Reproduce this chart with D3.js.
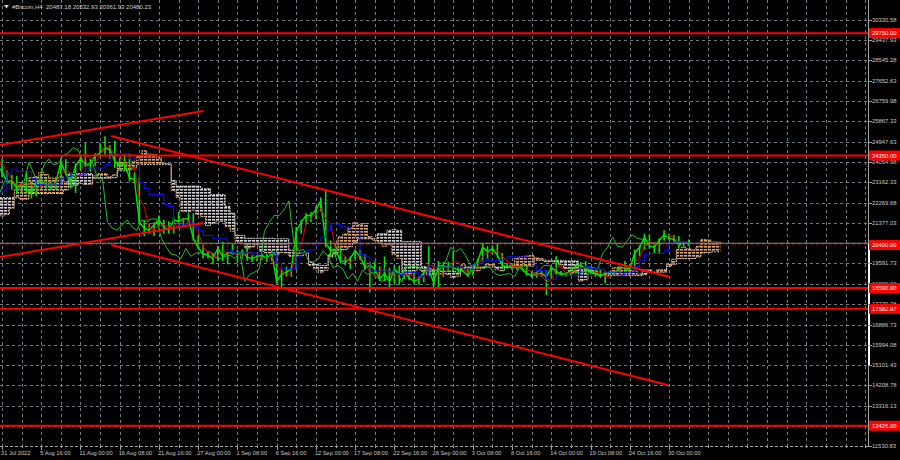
<!DOCTYPE html>
<html><head><meta charset="utf-8">
<script src="https://cdn.jsdelivr.net/npm/d3@7"></script>
<style>body{margin:0;background:#000;} svg{display:block;}</style>
</head><body><svg id="c" width="900" height="460"></svg>
<script>
// ---------- DATA ----------
const title = "#Bitcoin,H4  20487.18 20532.93 20361.93 20480.23";
const lastClose = 20480.23;
// H4 bar index of first sample (0 = 31 Jul 2022 00:00), one sample every 4 H4 bars
const firstBar = -84, barStep = 4;
const hi = [21600,22000,22700,23000,23800,24280,23450,23200,23750,22850,22700,22900,22500,21600,21300,22700,23200,24100,24150,24000,24650,
24200,23700,23500,23450,23200,23650,23200,23300,23450,23350,23200,23400,24250,24200,23600,24000,24300,24900,24200,24450,
24900,25200,24800,25000,24250,24400,24450,23600,23400,21500,21350,21400,21700,21500,21450,21650,21850,21600,21800,21800,
20800,20400,20150,20050,20350,20550,20100,20450,20200,20200,20450,19950,19950,20000,20000,20150,20150,19300,19450,19450,
21200,21500,21800,21850,22100,22500,22800,20600,20450,20300,19900,19900,20200,20200,20000,19650,19700,19450,19900,19400,
19500,19500,19350,19300,19200,19000,19300,20350,19400,19700,19650,19650,20150,19450,19400,19400,19500,19800,20450,20350,
20400,20450,20050,19600,19600,19500,19550,19500,19250,19200,19250,19300,19500,19900,19250,19200,19400,19550,19650,19700,
19400,19300,19350,19250,19250,19250,19450,19700,19550,20200,20400,20900,20850,20450,20700,21050,20900,20850,20800,20550,20650];
const lo = [20750,20800,21600,21600,22600,23000,22400,22600,22300,22200,22150,22300,21300,20900,20700,21000,22500,22900,23400,23500,23650,
23400,23100,22850,22650,22700,22700,22450,22550,22900,22900,22850,22850,23150,23500,22900,22700,23700,23850,23650,23900,
24300,24400,24200,23800,23700,23700,23200,23150,21300,20800,20900,20800,21200,20900,20900,20900,21200,21200,21400,20600,
20200,19800,19800,19550,19700,19700,19550,19950,19600,19800,19700,19650,19700,19750,19650,19700,18700,18550,19000,19000,
19300,20900,21300,21400,21550,21900,20300,19900,19850,19600,19500,19350,19750,19750,19300,18300,19150,18800,18800,18500,
18700,18650,18900,18850,18700,18650,18750,19150,18500,18500,19000,19200,19250,19150,19200,19000,19050,19350,19650,19800,
20000,19850,19350,19350,19300,19300,19350,19050,18950,18950,19000,18200,18900,19100,19050,19000,19100,19150,19350,19100,
19100,19000,18950,18700,19050,19100,19150,19250,19150,19250,19900,20200,20250,20050,20000,20600,20600,20550,20250,20300,20350];
const cl = [21200,21900,22400,22700,23600,23200,22900,23100,22500,22500,22400,22500,21400,21200,21200,22600,23000,23800,23700,23900,23900,
23650,23200,23250,22900,23100,22850,22700,23200,23150,23100,22950,23200,24050,23550,23150,23900,24200,23950,24000,24350,
24450,24700,24600,24100,23900,24000,23350,23300,21400,21150,21050,21300,21500,21200,21050,21500,21450,21550,21550,20700,
20300,20000,19950,19800,20250,19900,20050,20050,20000,20100,19850,19800,19900,19950,19800,20050,18800,19100,19200,19350,
21000,21400,21700,21700,21950,22350,20500,20150,20200,19700,19650,19800,20150,19900,19400,19500,19350,18900,19150,18800,
19300,19100,19200,18950,18800,18900,19200,19300,18750,19500,19450,19450,19400,19300,19250,19050,19400,19700,20300,20100,
20250,19950,19500,19450,19400,19450,19400,19150,19050,19100,19150,19000,19400,19200,19100,19150,19250,19500,19500,19350,
19200,19150,19050,19150,19200,19200,19400,19400,19350,20050,20300,20750,20350,20300,20600,20850,20700,20650,20400,20500,20480];

const levels = [29750, 24350, 20400, 18500, 17582.97, 12426];
const levelLabels = ["29750.00","24350.00","20400.00","18500.00","17582.97","12426.00"];
const dottedLevel = 20400;

const yTickLabels = ["30330.58","29437.93","28545.28","27652.63","26759.98","25867.33","24947.63","24054.98","23162.33","22269.68","21377.03","20484.38","19591.73","18699.08","17779.38","16886.73","15994.08","15101.43","14208.78","13316.13","12423.48","11530.83"];
const xTickLabels = ["31 Jul 2022","5 Aug 16:00","11 Aug 00:00","16 Aug 08:00","21 Aug 16:00","27 Aug 00:00","1 Sep 08:00","6 Sep 16:00","12 Sep 00:00","17 Sep 08:00","22 Sep 16:00","28 Sep 00:00","3 Oct 08:00","8 Oct 16:00","14 Oct 00:00","19 Oct 08:00","24 Oct 16:00","30 Oct 00:00"];
const barsPerLabel = 32, barsPerGrid = 16;

// trend lines as [bar, price] anchors
const trendLines = [
  [[-2, 24814], [164, 26315]],
  [[-2, 19871], [164, 21372]],
  [[89, 25211], [545, 18989]],
  [[89, 20401], [543, 14223]]
];

// Ichimoku periods expressed in samples (4 H4 bars each), shift in bars
const tenkanN = 2, kijunN = 7, spanBN = 13, shiftBars = 26;

// ---------- CHART ----------
const svg = d3.select("#c");
const PR = 868, PB = 446;
const x = d3.scaleLinear().domain([0, 544]).range([2, 669]);
const y = d3.scaleLinear().domain([11530.83, 30330.58]).range([446, 20]);
const FONT = "Liberation Sans, Arial, sans-serif";

svg.append("rect").attr("width", 900).attr("height", 460).attr("fill", "#000");
const defs = svg.append("defs");
defs.append("clipPath").attr("id", "plot").append("rect")
  .attr("x", 0).attr("y", 0).attr("width", PR).attr("height", PB);
function pattern(id, color) {
  const p = defs.append("pattern").attr("id", id).attr("patternUnits", "userSpaceOnUse")
    .attr("width", 4).attr("height", 3);
  p.append("rect").attr("x", 0).attr("y", 0).attr("width", 3.2).attr("height", 1.6).attr("fill", color);
}
const sandyC = "#e0a570", thistleC = "#d6d0d6";
pattern("sandy", sandyC);
pattern("thistle", thistleC);

const g = svg.append("g").attr("clip-path", "url(#plot)");

// grid
const gridColor = "#6f7a86";
const gridBars = d3.range(0, 720, barsPerGrid).filter(b => x(b) < PR);
g.selectAll(".vg").data(gridBars).join("line")
  .attr("x1", d => Math.round(x(d)) + 0.5).attr("x2", d => Math.round(x(d)) + 0.5)
  .attr("y1", 0).attr("y2", PB)
  .attr("stroke", gridColor).attr("stroke-width", 1).attr("stroke-dasharray", "3,3");
const yTickVals = yTickLabels.map(Number);
g.selectAll(".hg").data(yTickVals).join("line")
  .attr("x1", 0).attr("x2", PR)
  .attr("y1", d => Math.round(y(d)) + 0.5).attr("y2", d => Math.round(y(d)) + 0.5)
  .attr("stroke", gridColor).attr("stroke-width", 1).attr("stroke-dasharray", "3,3");

// data points
const pts = hi.map((h, k) => ({ k, bar: firstBar + k * barStep, h, l: lo[k], c: cl[k] }));
function mid(k, n) {
  if (k < n - 1) return null;
  let mx = -Infinity, mn = Infinity;
  for (let i = k - n + 1; i <= k; i++) { mx = Math.max(mx, hi[i]); mn = Math.min(mn, lo[i]); }
  return (mx + mn) / 2;
}
const tenkan = pts.filter(p => p.k >= tenkanN - 1).map(p => ({ bar: p.bar, v: mid(p.k, tenkanN) }));
const kijun = pts.filter(p => p.k >= kijunN - 1).map(p => ({ bar: p.bar, v: mid(p.k, kijunN) }));
const cloud = pts.filter(p => p.k >= spanBN - 1).map(p => {
  const a = (mid(p.k, tenkanN) + mid(p.k, kijunN)) / 2;
  const b = mid(p.k, spanBN);
  return { bar: p.bar + shiftBars, a, b };
});
const chikou = pts.map(p => ({ bar: p.bar - shiftBars, v: p.c }));

// cloud
g.append("path").datum(cloud)
  .attr("d", d3.area().x(d => x(d.bar)).y0(d => y(d.b)).y1(d => y(Math.max(d.a, d.b))).curve(d3.curveStepAfter))
  .attr("fill", "url(#sandy)");
g.append("path").datum(cloud)
  .attr("d", d3.area().x(d => x(d.bar)).y0(d => y(d.a)).y1(d => y(Math.max(d.a, d.b))).curve(d3.curveStepAfter))
  .attr("fill", "url(#thistle)");
g.append("path").datum(cloud)
  .attr("d", d3.line().x(d => x(d.bar)).y(d => y(d.a)).curve(d3.curveStepAfter))
  .attr("fill", "none").attr("stroke", sandyC).attr("stroke-width", 1).attr("stroke-dasharray", "2,1");
g.append("path").datum(cloud)
  .attr("d", d3.line().x(d => x(d.bar)).y(d => y(d.b)).curve(d3.curveStepAfter))
  .attr("fill", "none").attr("stroke", thistleC).attr("stroke-width", 1).attr("stroke-dasharray", "2,1");

// price bars
g.selectAll(".pb").data(pts).join("line")
  .attr("x1", d => x(d.bar)).attr("x2", d => x(d.bar))
  .attr("y1", d => y(d.h)).attr("y2", d => y(d.l))
  .attr("stroke", "#00e400").attr("stroke-width", 1.6);
g.append("path").datum(pts)
  .attr("d", d3.line().x(d => x(d.bar)).y(d => y(d.c)))
  .attr("fill", "none").attr("stroke", "#00e400").attr("stroke-width", 1.4);

// chikou
g.append("path").datum(chikou)
  .attr("d", d3.line().x(d => x(d.bar)).y(d => y(d.v)))
  .attr("fill", "none").attr("stroke", "#22c022").attr("stroke-width", 1);
// tenkan / kijun
g.append("path").datum(tenkan)
  .attr("d", d3.line().x(d => x(d.bar)).y(d => y(d.v)))
  .attr("fill", "none").attr("stroke", "#e00000").attr("stroke-width", 1);
g.append("path").datum(kijun)
  .attr("d", d3.line().x(d => x(d.bar)).y(d => y(d.v)).curve(d3.curveStepAfter))
  .attr("fill", "none").attr("stroke", "#1010ff").attr("stroke-width", 1);

// bid line
g.append("line").attr("x1", 0).attr("x2", PR)
  .attr("y1", y(lastClose)).attr("y2", y(lastClose))
  .attr("stroke", "#808080").attr("stroke-width", 1);

// levels
g.selectAll(".lv").data(levels).join("line")
  .attr("x1", 0).attr("x2", PR)
  .attr("y1", d => y(d)).attr("y2", d => y(d))
  .attr("stroke", d => d === dottedLevel ? "#c00000" : "#ff0000")
  .attr("stroke-width", d => d === dottedLevel ? 1 : 2)
  .attr("stroke-dasharray", d => d === dottedLevel ? "1,2" : null);

// trend lines
g.selectAll(".tl").data(trendLines).join("line")
  .attr("x1", d => x(d[0][0])).attr("y1", d => y(d[0][1]))
  .attr("x2", d => x(d[1][0])).attr("y2", d => y(d[1][1]))
  .attr("stroke", "#ff0000").attr("stroke-width", 2);

// borders
svg.append("line").attr("x1", PR + 0.5).attr("x2", PR + 0.5).attr("y1", 0).attr("y2", PB + 1)
  .attr("stroke", "#a0a0a0").attr("stroke-width", 1);
svg.append("line").attr("x1", 0).attr("x2", PR).attr("y1", PB + 0.5).attr("y2", PB + 0.5)
  .attr("stroke", "#a0a0a0").attr("stroke-width", 1).attr("stroke-dasharray", "3,2");
svg.append("rect").attr("x", PR).attr("width", 2)
  .attr("y", y(lastClose)).attr("height", y(15101.43) - y(lastClose)).attr("fill", "#ffffff");

// right axis (labels hidden behind a level tag are not drawn)
svg.selectAll(".yt").data(yTickVals).join("line")
  .attr("x1", PR).attr("x2", PR + 4)
  .attr("y1", d => Math.round(y(d)) + 0.5).attr("y2", d => Math.round(y(d)) + 0.5)
  .attr("stroke", "#a0a0a0");
const visibleY = yTickLabels.filter(t => levels.every(l => Math.abs(y(+t) - y(l)) > 4));
svg.selectAll(".yl").data(visibleY).join("text")
  .attr("x", PR + 4).attr("y", d => y(+d) + 2)
  .attr("font-family", FONT).attr("font-size", 5.9).attr("fill", "#c8c8c8")
  .text(d => d);
const lvG = svg.selectAll(".lg").data(levels).join("g");
lvG.append("rect").attr("x", PR + 1).attr("y", d => y(d) - 5).attr("width", 32).attr("height", 10)
  .attr("fill", "#ff0000");
lvG.append("text").attr("x", PR + 4).attr("y", d => y(d) + 2)
  .attr("font-family", FONT).attr("font-size", 5.9).attr("fill", "#ffffff")
  .text((d, i) => levelLabels[i]);

// bottom axis
svg.selectAll(".xt").data(gridBars).join("line")
  .attr("x1", d => Math.round(x(d)) + 0.5).attr("x2", d => Math.round(x(d)) + 0.5)
  .attr("y1", PB).attr("y2", d => (d % barsPerLabel === 0 && d / barsPerLabel < xTickLabels.length) ? PB + 4 : PB + 2)
  .attr("stroke", "#a0a0a0");
svg.selectAll(".xl").data(xTickLabels).join("text")
  .attr("x", (d, i) => x(i * barsPerLabel) - 1).attr("y", 455)
  .attr("font-family", FONT).attr("font-size", 5.7).attr("fill", "#c8c8c8")
  .text(d => d);

// title
svg.append("path").attr("d", "M4,5 L9,5 L6.5,8.5 Z").attr("fill", "#d0d0d0");
svg.append("text").attr("x", 12).attr("y", 8.5)
  .attr("font-family", FONT).attr("font-size", 6).attr("fill", "#d0d0d0")
  .attr("xml:space", "preserve").style("white-space", "pre")
  .text(title);
</script>
</body></html>
